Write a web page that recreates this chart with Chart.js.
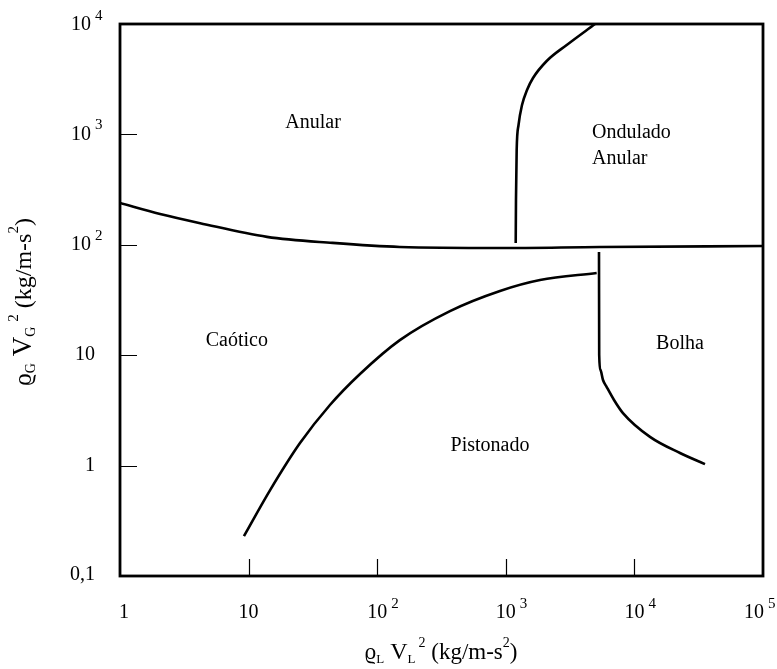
<!DOCTYPE html>
<html>
<head>
<meta charset="utf-8">
<script src="https://cdn.jsdelivr.net/npm/chart.js@4"></script>
<style>
html, body { margin: 0; padding: 0; background: #fff; }
#wrap { width: 777px; height: 669px; }
</style>
</head>
<body>
<div id="wrap"><canvas id="flowMap" width="777" height="669"></canvas></div>
<script>
// Mapa de padroes de escoamento (eixos log-log)
var xTicks = [1, 10, 100, 1000, 10000, 100000];
var xTickLabels = ['1', '10', '10^2', '10^3', '10^4', '10^5'];
var yTicks = [0.1, 1, 10, 100, 1000, 10000];
var yTickLabels = ['0,1', '1', '10', '10^2', '10^3', '10^4'];

// fronteira Anular / Caotico
var anularX = [1, 2.05, 4.2, 13.9, 45, 150, 900, 5400, 100000];
var anularY = [239, 190, 157, 118, 104, 95.5, 93.5, 95.5, 97.5];

// fronteira Ondulado Anular
var onduladoX = [1194, 1200, 1215, 1256, 1337, 1462, 1628, 2080, 2977, 4940];
var onduladoY = [104, 254, 722, 1217, 1846, 2525, 3243, 4623, 6456, 10000];

// fronteira Pistonado / Caotico
var pistonadoX = [9.2, 14.7, 25.1, 42.9, 73.5, 150, 368, 901, 1845, 5090];
var pistonadoY = [0.23, 0.60, 1.60, 3.54, 6.76, 13.7, 25.1, 38.2, 48.0, 55.5];

// fronteira Bolha
var bolhaX = [5305, 5324, 5450, 5700, 6091, 6941, 8150, 13220, 22630, 35390];
var bolhaY = [86.1, 10.04, 7.34, 5.96, 5.15, 3.93, 2.99, 1.82, 1.30, 1.03];

// nomes das regioes
var regionNames = ['Anular', 'Ondulado', 'Anular', 'Caótico', 'Bolha', 'Pistonado'];
var regionX = [31.7, 4680, 4680, 8.1, 22600, 754];
var regionY = [1268, 1030, 598, 13.5, 12.6, 1.51];
var regionAlign = ['center', 'left', 'left', 'center', 'center', 'center'];

function toPoints(xs, ys) {
    return xs.map(function (x, i) { return { x: x, y: ys[i] }; });
}

function curve(xs, ys) {
    return {
        data: toPoints(xs, ys),
        showLine: true,
        borderColor: '#000',
        borderWidth: 2.6,
        pointRadius: 0,
        cubicInterpolationMode: 'monotone',
        fill: false
    };
}

var SERIF = '"Liberation Serif", "DejaVu Serif", serif';

// texto com indices e expoentes
function drawRich(ctx, parts, x, y, align) {
    var total = 0;
    parts.forEach(function (p) {
        ctx.font = p.size + 'px ' + SERIF;
        p.w = ctx.measureText(p.t).width;
        total += p.w + (p.gap || 0);
    });
    var cx = align === 'center' ? x - total / 2 : x;
    ctx.textAlign = 'left';
    ctx.textBaseline = 'alphabetic';
    parts.forEach(function (p) {
        cx += p.gap || 0;
        ctx.font = p.size + 'px ' + SERIF;
        ctx.fillText(p.t, cx, y + (p.dy || 0));
        cx += p.w;
    });
}

function drawPower(ctx, label, x, y, align) {
    // y = meio do texto base
    var bits = label.split('^');
    ctx.textBaseline = 'middle';
    ctx.font = '20px ' + SERIF;
    var w = ctx.measureText(bits[0]).width;
    var left;
    if (align === 'right') left = x - w;
    else left = x - w / 2;
    ctx.textAlign = 'left';
    ctx.fillText(bits[0], left, y);
    if (bits[1]) {
        ctx.font = '15px ' + SERIF;
        ctx.fillText(bits[1], left + w + 4, y - 9);
    }
}

var framePlugin = {
    id: 'framePlugin',
    afterDraw: function (chart) {
        var ctx = chart.ctx;
        var a = chart.chartArea;
        var xs = chart.scales.x, ys = chart.scales.y;
        ctx.save();
        ctx.fillStyle = '#000';
        ctx.strokeStyle = '#000';

        // marcas internas
        ctx.lineWidth = 1.2;
        ctx.beginPath();
        xTicks.forEach(function (v, i) {
            if (i === 0 || i === xTicks.length - 1) return;
            var px = Math.round(xs.getPixelForValue(v)) + 0.5;
            ctx.moveTo(px, a.bottom);
            ctx.lineTo(px, a.bottom - 17);
        });
        yTicks.forEach(function (v, i) {
            if (i === 0 || i === yTicks.length - 1) return;
            var py = Math.round(ys.getPixelForValue(v)) + 0.5;
            ctx.moveTo(a.left, py);
            ctx.lineTo(a.left + 17, py);
        });
        ctx.stroke();

        // moldura
        ctx.lineWidth = 2.8;
        ctx.strokeRect(a.left, a.top, a.right - a.left, a.bottom - a.top);

        // rotulos do eixo x
        xTickLabels.forEach(function (lab, i) {
            var px = xs.getPixelForValue(xTicks[i]);
            if (i === 0) px += 4;
            if (i === xTickLabels.length - 1) px -= 9;
            drawPower(ctx, lab, px, 613, 'center');
        });
        // rotulos do eixo y
        yTickLabels.forEach(function (lab, i) {
            var py = ys.getPixelForValue(yTicks[i]);
            if (i === 0) py -= 1;
            if (i === yTickLabels.length - 1) py += 1;
            var rx = lab.indexOf('^') >= 0 ? 91 : 95;
            drawPower(ctx, lab, rx, py, 'right');
        });

        // titulo do eixo x
        drawRich(ctx, [
            { t: 'ϱ', size: 23 },
            { t: 'L', size: 13, dy: 4 },
            { t: ' V', size: 24 },
            { t: 'L', size: 13, dy: 4 },
            { t: '2', size: 14, dy: -12, gap: 3 },
            { t: ' (kg/m-s', size: 23 },
            { t: '2', size: 14, dy: -12 },
            { t: ')', size: 23 }
        ], 441, 659, 'center');

        // titulo do eixo y
        ctx.save();
        ctx.translate(31, 302);
        ctx.rotate(-Math.PI / 2);
        drawRich(ctx, [
            { t: 'ϱ', size: 25 },
            { t: 'G', size: 14, dy: 4 },
            { t: ' V', size: 27 },
            { t: 'G', size: 14, dy: 4 },
            { t: '2', size: 15, dy: -13, gap: 5 },
            { t: ' (kg/m-s', size: 24 },
            { t: '2', size: 15, dy: -13 },
            { t: ')', size: 24 }
        ], 0, 0, 'center');
        ctx.restore();

        // nomes das regioes
        ctx.font = '20px ' + SERIF;
        ctx.textBaseline = 'middle';
        regionNames.forEach(function (name, i) {
            ctx.textAlign = regionAlign[i];
            ctx.fillText(name, xs.getPixelForValue(regionX[i]), ys.getPixelForValue(regionY[i]));
        });
        ctx.restore();
    }
};

var ctx = document.getElementById('flowMap').getContext('2d');
var flowChart = new Chart(ctx, {
    type: 'scatter',
    data: {
        datasets: [
            curve(anularX, anularY),
            curve(onduladoX, onduladoY),
            curve(pistonadoX, pistonadoY),
            curve(bolhaX, bolhaY)
        ]
    },
    options: {
        responsive: false,
        animation: false,
        devicePixelRatio: 1,
        layout: { padding: { left: 120, top: 24, right: 14, bottom: 93 } },
        plugins: { legend: { display: false }, tooltip: { enabled: false } },
        scales: {
            x: { type: 'logarithmic', min: 1, max: 100000, display: false },
            y: { type: 'logarithmic', min: 0.1, max: 10000, display: false }
        }
    },
    plugins: [framePlugin]
});
</script>
</body>
</html>
